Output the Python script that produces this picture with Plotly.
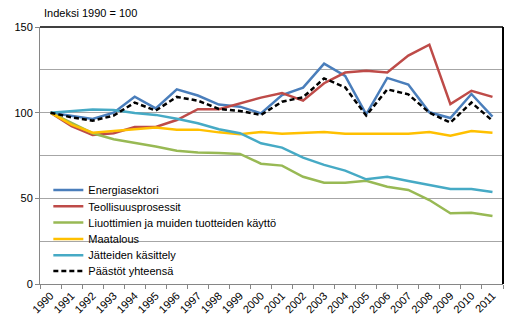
import plotly.graph_objects as go

years = [str(y) for y in range(1990, 2012)]

energia = [100, 98, 96.3, 100, 109.3, 102.5, 113.6, 110, 104.7, 103.5, 99.6, 110.3, 114.6, 128.6, 121.4, 99, 120.3, 116.4, 100.2, 96.9, 110.9, 97.7]
teollisuus = [100, 92.2, 87, 88, 91.6, 91.6, 95.7, 102, 102, 105.2, 108.8, 111.5, 107, 117.2, 123.4, 124.5, 123.4, 133.3, 139.7, 105, 112.8, 109.2]
liuottimet = [100, 94, 88, 84.5, 82.5, 80.2, 77.8, 76.7, 76.5, 75.9, 70.2, 69.1, 62.6, 59.1, 59.1, 60.3, 56.8, 54.9, 49, 41.3, 41.6, 39.7]
maatalous = [100, 93, 88.3, 89.5, 90.3, 91.3, 90.1, 90.1, 88.5, 87.4, 88.7, 87.7, 88.3, 88.7, 87.7, 87.7, 87.7, 87.7, 88.7, 86.6, 89.3, 88.3]
jatteet = [100, 101, 101.8, 101.6, 99.8, 98.7, 96.5, 93.8, 90.3, 88, 82.1, 79.6, 73.8, 69.5, 66.2, 61.1, 62.6, 60.1, 57.8, 55.5, 55.5, 53.7]
yhteensa = [100, 97.3, 95.3, 98.3, 105.9, 101.2, 109.2, 107, 102.2, 101, 98.7, 106.4, 109, 120, 114.8, 98.3, 113.6, 110.7, 100, 94.2, 105.9, 95.3]

series = [
    ("Energiasektori", energia, "#4A7EBB", "solid"),
    ("Teollisuusprosessit", teollisuus, "#BE4B48", "solid"),
    ("Liuottimien ja muiden tuotteiden käyttö", liuottimet, "#98B954", "solid"),
    ("Maatalous", maatalous, "#FFC000", "solid"),
    ("Jätteiden käsittely", jatteet, "#46AAC5", "solid"),
    ("Päästöt yhteensä", yhteensa, "#000000", "5px,3px"),
]

font = "Liberation Sans, Arial, sans-serif"
legend_centers_px = [190, 206.3, 222.4, 239, 255.2, 271]
plot_top, plot_bottom = 27, 284

fig = go.Figure()
layout_legends = {}
for i, (name, vals, color, dash) in enumerate(series):
    lname = "legend" if i == 0 else f"legend{i+1}"
    fig.add_trace(go.Scatter(x=years, y=vals, name=name, mode="lines",
                             legend=lname,
                             line=dict(color=color, width=2.5, dash=dash)))
    yc = (plot_bottom - legend_centers_px[i]) / (plot_bottom - plot_top)
    layout_legends[lname] = dict(x=0.018, y=yc, xanchor="left", yanchor="middle",
                                 bgcolor="rgba(0,0,0,0)",
                                 font=dict(size=11, family=font, color="black"),
                                 itemwidth=30)

fig.update_layout(
    width=512, height=323,
    margin=dict(l=40, r=9, t=27, b=39),
    paper_bgcolor="white", plot_bgcolor="white",
    font=dict(family=font, size=11, color="black"),
    showlegend=True,
    **layout_legends,
    annotations=[dict(text="Indeksi 1990 = 100", xref="paper", yref="paper", x=0.0, y=1.0,
                      xanchor="left", yanchor="bottom", yshift=6, xshift=2,
                      showarrow=False, font=dict(size=11))],
)

fig.update_xaxes(type="category", range=[-0.5, 21.5], tickangle=-45,
                 ticks="outside", tickson="boundaries", ticklen=4, tickcolor="#868686",
                 showline=True, linecolor="#868686", linewidth=1,
                 showgrid=False, tickfont=dict(size=11), fixedrange=True)
fig.update_yaxes(range=[0, 150], dtick=50, tick0=0,
                 ticks="outside", ticklen=4, tickcolor="#868686",
                 showline=True, linecolor="#868686", linewidth=1,
                 showgrid=True, gridcolor="#A6A6A6", gridwidth=1,
                 minor=dict(dtick=25, showgrid=True, gridcolor="#A6A6A6", gridwidth=1),
                 zeroline=False, tickfont=dict(size=11))

fig.add_shape(type="line", xref="paper", yref="paper", x0=0, x1=1, y0=1, y1=1,
              line=dict(color="black", width=1.5))
fig.add_shape(type="line", xref="paper", yref="paper", x0=1, x1=1, y0=0, y1=1,
              line=dict(color="black", width=2))

fig.write_html("out.html")
